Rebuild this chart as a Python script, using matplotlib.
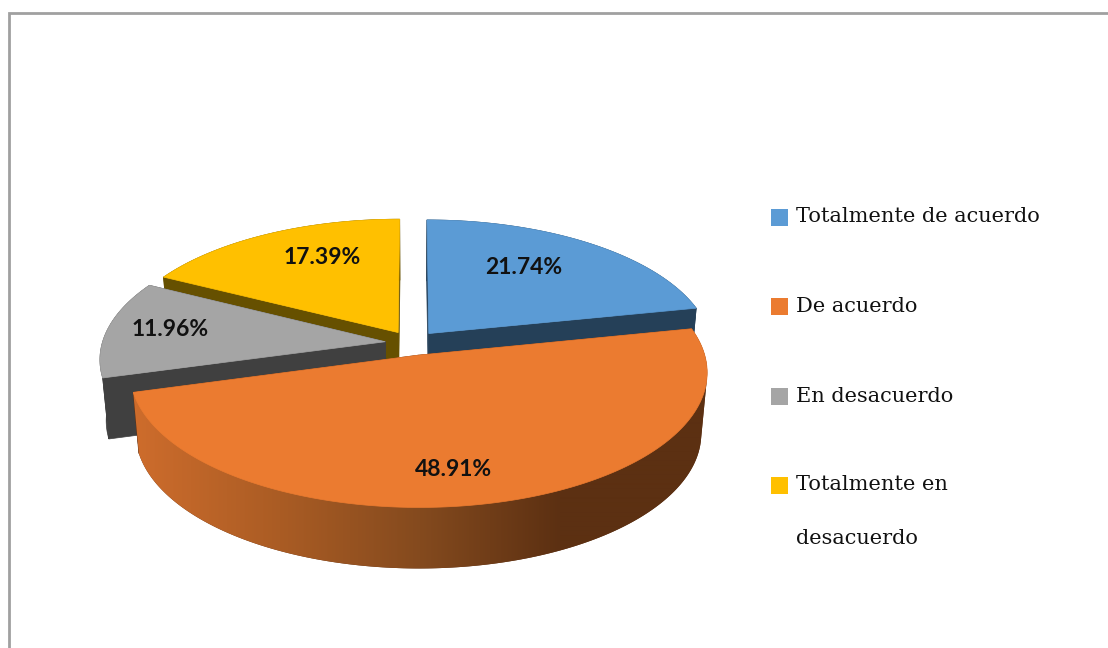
import numpy as np
import matplotlib
matplotlib.use("Agg")
import matplotlib.pyplot as plt
from matplotlib.patches import Polygon, Rectangle

categories = ["Totalmente de acuerdo", "De acuerdo", "En desacuerdo", "Totalmente en\ndesacuerdo"]
values = [21.74, 48.91, 11.96, 17.39]
face_colors = ["#5B9BD5", "#EB7B30", "#A5A5A5", "#FFC000"]
wall_colors = ["#254058", "#5C3015", "#404040", "#665000"]

# projection of the pie onto the page
X0, Y0 = 412, 343
A, B = 283, 130
K = 0.125
EXPLODE = 0.095
DEPTH = 61
CONVERGE = 0.02

fig = plt.figure(figsize=(11.08, 6.48), dpi=100, facecolor="white")
ax = fig.add_axes([0, 0, 1, 1])
ax.axis("off")


def project(u, v, z=0.0):
    u, v = np.asarray(u, float), np.asarray(v, float)
    w = 1 + K * v
    x = X0 + A * u / w * (1 - CONVERGE * z)
    y = Y0 - B * v / w + DEPTH * z
    return x, y


def convex_hull(points):
    pts = sorted(map(tuple, points))

    def half(seq):
        out = []
        for p in seq:
            while len(out) > 1 and ((out[-1][0] - out[-2][0]) * (p[1] - out[-2][1])
                                    - (out[-1][1] - out[-2][1]) * (p[0] - out[-2][0])) <= 0:
                out.pop()
            out.append(p)
        return out[:-1]

    return np.array(half(pts) + half(pts[::-1]))


fractions = np.array(values) / np.sum(values)
ends = np.cumsum(fractions) * 2 * np.pi
starts = ends - fractions * 2 * np.pi
mids = (starts + ends) / 2


def orange_gradient():
    xs = np.arange(100, 720)
    stops_x = [137, 280, 420, 560, 708]
    r = np.interp(xs, stops_x, [205, 170, 132, 92, 92])
    g = np.interp(xs, stops_x, [108, 92, 74, 48, 48])
    b = np.interp(xs, stops_x, [44, 36, 30, 18, 18])
    return np.dstack([r, g, b])[0:1] / 255


def draw_slice(i, base_z):
    du, dv = EXPLODE * np.sin(mids[i]), EXPLODE * np.cos(mids[i])
    th = np.linspace(starts[i], ends[i], 240)
    u = np.sin(th) + du
    v = np.cos(th) + dv
    # radial walls
    for edge in (0, -1):
        xt, yt = project([du, u[edge]], [dv, v[edge]], 0)
        xb, yb = project([du, u[edge]], [dv, v[edge]], 1)
        pts = np.column_stack([np.r_[xt, xb[::-1]], np.r_[yt, yb[::-1]]])
        ax.add_patch(Polygon(pts, closed=True, fc=wall_colors[i], ec=wall_colors[i], lw=0.5, zorder=base_z))
    # outer wall
    xt, yt = project(u, v, 0)
    xb, yb = project(u, v, 1)
    pts = np.column_stack([np.r_[xt, xb[::-1]], np.r_[yt, yb[::-1]]])
    if i == 1:
        pts = convex_hull(pts)
    wall = Polygon(pts, closed=True, fc=wall_colors[i], ec=wall_colors[i], lw=0.5, zorder=base_z + 0.1)
    ax.add_patch(wall)
    if i == 1:
        wall.set_edgecolor("none")
        im = ax.imshow(orange_gradient(), extent=(100, 720, 600, 300), aspect="auto",
                       interpolation="bilinear", zorder=base_z + 0.2)
        im.set_clip_path(wall)
    # top face
    fx, fy = project(np.r_[du, u], np.r_[dv, v], 0)
    ax.add_patch(Polygon(np.column_stack([fx, fy]), closed=True, fc=face_colors[i],
                         ec=face_colors[i], lw=0.5, zorder=base_z + 0.5))


# paint from the back of the pie to the front
for z, i in enumerate([3, 0, 2, 1]):
    draw_slice(i, z + 1)

label_pos = [(524, 267), (453, 470), (170, 329), (322, 258)]
for val, (lx, ly) in zip(values, label_pos):
    ax.text(lx, ly, f"{val:.2f}%", ha="center", va="center", family="Lato",
            weight="bold", fontsize=16.5, color="#111111", zorder=20)

legend_y = [216.5, 306, 396, 485]
line_gap = 53
for name, col, ly in zip(categories, face_colors, legend_y):
    ax.add_patch(Rectangle((771, ly - 8), 17, 17, fc=col, ec="none", zorder=20))
    for n, part in enumerate(name.split("\n")):
        ax.text(796, ly + n * line_gap, part, ha="left", va="center", family="DejaVu Serif",
                fontsize=15, color="#111111", zorder=20)

ax.plot([9, 9, 1108], [648, 13, 13], color="#A0A0A0", lw=2, solid_joinstyle="miter", zorder=20)

ax.set_xlim(0, 1108)
ax.set_ylim(648, 0)
ax.set_position([0, 0, 1, 1])

fig.savefig("out.png", dpi=100, facecolor="white")
